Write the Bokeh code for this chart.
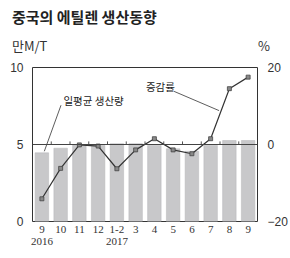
from bokeh.plotting import figure
from bokeh.models import Range1d, LinearAxis, Span, FixedTicker, Div
from bokeh.layouts import column
from bokeh.core.properties import value
from bokeh.embed import file_html
from bokeh.resources import INLINE

months = ["9", "10", "11", "12", "1-2", "3", "4", "5", "6", "7", "8", "9"]
years = {0: "2016", 4: "2017"}
production = [4.46, 4.76, 4.98, 4.94, 5.05, 5.05, 4.94, 4.72, 4.56, 4.94, 5.26, 5.26]
change_pct = [-14.1, -6.2, -0.1, -0.4, -6.3, -1.4, 1.5, -1.4, -2.4, 1.5, 14.5, 17.5]

FONT = "Noto Sans CJK KR"
xs = list(range(len(months)))

p = figure(width=290, height=202, output_backend="svg", toolbar_location=None,
           x_range=Range1d(-0.5, len(months) - 0.5), y_range=Range1d(0, 10),
           min_border_left=32, min_border_right=29, min_border_top=11, min_border_bottom=37)
p.margin = 0
p.outline_line_color = "#333333"
p.outline_line_width = 1
p.grid.visible = False
p.background_fill_color = "white"
p.border_fill_color = "white"

p.extra_y_ranges = {"pct": Range1d(-20, 20)}

p.vbar(x=xs, top=production, width=0.72, fill_color="#c8c8ca", line_color="#b4b4b8", line_width=0.5)
p.add_layout(Span(location=5, dimension="width", line_color="#444444", line_width=1))
p.segment(x0=[i + 0.5 for i in xs[:-1]], y0=[5] * (len(xs) - 1),
          x1=[i + 0.5 for i in xs[:-1]], y1=[5.2] * (len(xs) - 1), line_color="#555555", line_width=1)
p.line(xs, change_pct, y_range_name="pct", line_color="#333333", line_width=1.2)
p.scatter(xs, change_pct, y_range_name="pct", marker="square", size=4,
          fill_color="#888888", line_color="#444444", line_width=0.8)

# annotations
p.text(x=[1.15], y=[7.85], text=["일평균 생산량"], text_font=value(FONT), text_font_size="10.5px",
       text_baseline="middle", text_color="#222222")
p.segment(x0=[1.02], y0=[7.55], x1=[0.13], y1=[production[0] + 0.1], line_color="#333333", line_width=0.8)
p.text(x=[5.55], y=[8.78], text=["증감률"], text_font=value(FONT), text_font_size="10.5px",
       text_baseline="middle", text_color="#222222")
p.segment(x0=[7.05], y0=[8.45], x1=[9.45], y1=[7.2], line_color="#333333", line_width=0.8)

# axes
ax = p.yaxis[0]
ax.ticker = FixedTicker(ticks=[0, 5, 10])
ax.major_label_text_font = "Liberation Sans"
ax.major_label_text_font_size = "12px"
ax.major_label_text_color = "#333333"
ax.axis_line_color = None
ax.major_tick_line_color = None
ax.minor_tick_line_color = None
ax.major_label_standoff = 3

rax = LinearAxis(y_range_name="pct", ticker=FixedTicker(ticks=[-20, 0, 20]))
rax.major_label_text_font = "Liberation Sans"
rax.major_label_text_font_size = "12px"
rax.major_label_text_color = "#333333"
rax.axis_line_color = None
rax.major_tick_line_color = None
rax.minor_tick_line_color = None
rax.major_label_standoff = 4
p.add_layout(rax, "right")

bx = p.xaxis[0]
bx.ticker = FixedTicker(ticks=xs)
bx.major_label_overrides = {i: (m + "\n" + years[i] if i in years else m) for i, m in enumerate(months)}
bx.major_label_text_font = "Liberation Serif"
bx.major_label_text_font_size = "11px"
bx.major_label_text_color = "#333333"
bx.major_label_text_line_height = 1.0
bx.axis_line_color = None
bx.major_tick_line_color = None
bx.minor_tick_line_color = None
bx.major_tick_out = 0
bx.major_tick_in = 0
bx.major_label_standoff = 1

title = Div(text="중국의 에틸렌 생산동향", width=290, height=32, margin=0,
            styles={"font-family": FONT, "font-size": "15px", "font-weight": "bold", "color": "#222222",
                    "padding-left": "12px", "padding-top": "8px", "box-sizing": "border-box",
                    "line-height": "18px"})
units = Div(text=("<div style='display:flex;justify-content:space-between;width:258px'>"
                  "<span>만M/T</span><span>%</span></div>"),
            width=290, height=24, margin=0,
            styles={"font-family": FONT, "font-size": "13px", "color": "#333333",
                    "padding-left": "12px", "padding-top": "6px", "box-sizing": "border-box",
                    "line-height": "16px"})

layout = column(title, units, p, spacing=0, margin=0)
open("out.html", "w").write(file_html(layout, INLINE))
